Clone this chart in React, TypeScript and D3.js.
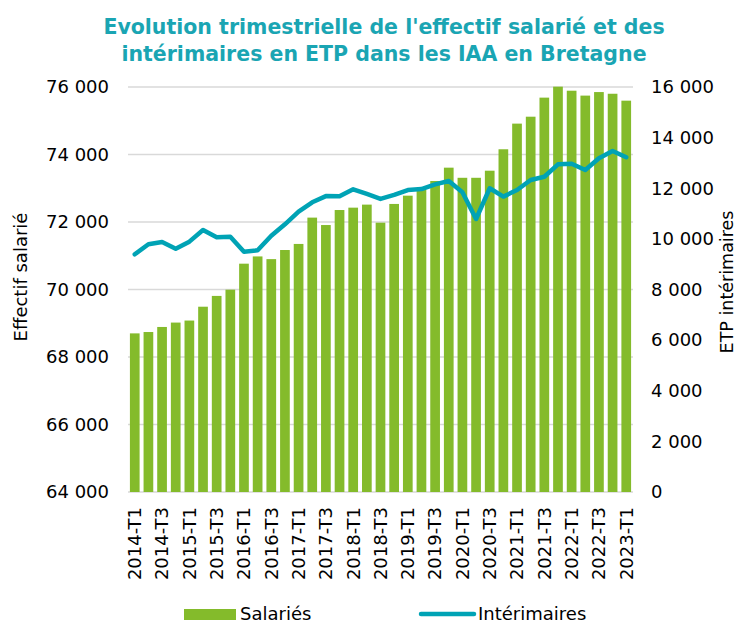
import React from "react";
import * as d3 from "d3";

const quarters: string[] = [];
for (let y = 2014; y <= 2023; y++) {
  for (let q = 1; q <= 4; q++) {
    if (y === 2023 && q > 1) break;
    quarters.push(`${y}-T${q}`);
  }
}

const salaries = [
  68700, 68740, 68890, 69020, 69080, 69490, 69810, 69995, 70765, 70980,
  70900, 71170, 71350, 72130, 71910, 72355, 72425, 72515, 71980, 72535,
  72780, 72950, 73215, 73610, 73310, 73310, 73520, 74155, 74915, 75120,
  75685, 76010, 75890, 75745, 75850, 75800, 75595,
];

const interimaires = [
  9390, 9790, 9880, 9610, 9890, 10350, 10060, 10085, 9495, 9550,
  10125, 10575, 11075, 11445, 11690, 11680, 11960, 11775, 11580, 11735,
  11930, 11970, 12155, 12285, 11840, 10785, 12000, 11670, 11930, 12325,
  12455, 12945, 12970, 12720, 13185, 13470, 13225,
];

const leftTicks = [64000, 66000, 68000, 70000, 72000, 74000, 76000];
const rightTicks = [0, 2000, 4000, 6000, 8000, 10000, 12000, 14000, 16000];

const titleLines = [
  "Evolution trimestrielle de l'effectif salarié et des",
  "intérimaires en ETP dans les IAA en Bretagne",
];

const W = 737;
const H = 623;
const M = { left: 128, right: 633, top: 87, bottom: 492 };
const FONT = "'DejaVu Sans', Verdana, sans-serif";
const GREEN = "#84BB2B";
const TEAL = "#00A3B5";
const TITLE = "#1AA5B3";

const fmt = (v: number) => d3.format(",")(v).replace(/,/g, " ");

export default function App() {
  const x = d3.scaleBand<string>().domain(quarters).range([M.left, M.right]).paddingInner(0.29).paddingOuter(0.14);
  const xc = (q: string) => (x(q) as number) + x.bandwidth() / 2;
  const yL = d3.scaleLinear().domain([64000, 76000]).range([M.bottom, M.top]);
  const yR = d3.scaleLinear().domain([0, 16000]).range([M.bottom, M.top]);
  const line = d3
    .line<number>()
    .x((_, i) => xc(quarters[i]))
    .y((d) => yR(d));

  return (
    <svg
      width={W}
      height={H}
      style={{ position: "absolute", left: 0, top: 0, background: "#fff" }}
      fontFamily={FONT}
    >
      {titleLines.map((t, i) => (
        <text
          key={i}
          x={384}
          y={34 + i * 27}
          textAnchor="middle"
          fontWeight="bold"
          fontSize={20.5}
          fill={TITLE}
        >
          {t}
        </text>
      ))}

      {leftTicks.map((t) => (
        <g key={t}>
          <line x1={M.left} x2={M.right} y1={yL(t)} y2={yL(t)} stroke="#d9d9d9" strokeWidth={1.3} />
          <text x={109} y={yL(t)} dy="0.35em" textAnchor="end" fontSize={18} fill="#000">
            {fmt(t)}
          </text>
        </g>
      ))}
      {rightTicks.map((t) => (
        <text key={t} x={651} y={yR(t)} dy="0.35em" textAnchor="start" fontSize={18} fill="#000">
          {fmt(t)}
        </text>
      ))}

      {quarters.map((q, i) => (
        <rect
          key={q}
          x={x(q)}
          y={yL(salaries[i])}
          width={x.bandwidth()}
          height={M.bottom - yL(salaries[i])}
          fill={GREEN}
        />
      ))}

      <path d={line(interimaires) || ""} fill="none" stroke={TEAL} strokeWidth={4.5} strokeLinejoin="round" strokeLinecap="round" />

      {quarters.map((q, i) =>
        i % 2 === 0 ? (
          <text
            key={q}
            transform={`translate(${xc(q)},507) rotate(-90)`}
            textAnchor="end"
            dy="0.35em"
            fontSize={18}
            fill="#000"
          >
            {q}
          </text>
        ) : null
      )}

      <text transform={`translate(21,277) rotate(-90)`} textAnchor="middle" dy="0.35em" fontSize={18} fill="#000">
        Effectif salarié
      </text>
      <text transform={`translate(727,282) rotate(-90)`} textAnchor="middle" dy="0.35em" fontSize={17.5} fill="#000">
        ETP intérimaires
      </text>

      <rect x={184} y={609} width={52} height={11} fill={GREEN} />
      <text x={240} y={614} dy="0.35em" fontSize={18} fill="#000">
        Salariés
      </text>
      <line x1={421} x2={474} y1={614} y2={614} stroke={TEAL} strokeWidth={4.5} strokeLinecap="round" />
      <text x={478} y={614} dy="0.35em" fontSize={18} fill="#000">
        Intérimaires
      </text>
    </svg>
  );
}
